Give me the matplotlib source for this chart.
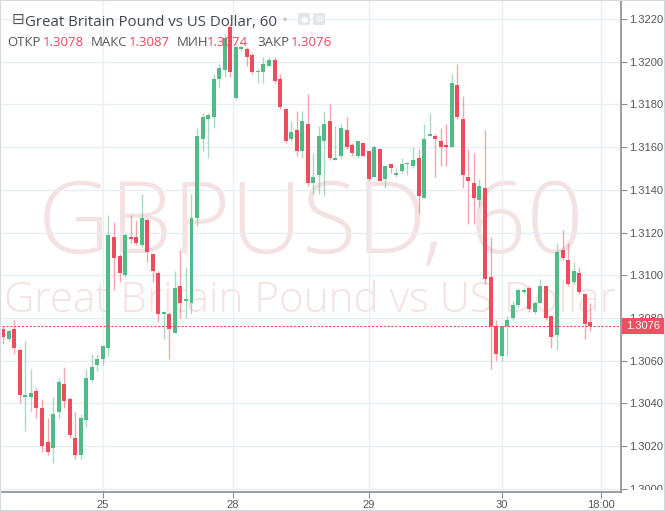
# GBPUSD hourly candles, TradingView style snapshot

import matplotlib
matplotlib.use('Agg')
import matplotlib.pyplot as plt
from matplotlib.patches import Rectangle, FancyBboxPatch
from matplotlib.transforms import Bbox

opens = [1.3075, 1.3070, 1.3075, 1.3065, 1.3043, 1.3043, 1.3046, 1.3038, 1.3022, 1.3019,
         1.3036, 1.3049, 1.3042, 1.3024, 1.3016, 1.3032, 1.3051, 1.3058, 1.3061, 1.3066,
         1.3118, 1.3109, 1.3100, 1.3118, 1.3118, 1.3114, 1.3126, 1.3110, 1.3101, 1.3082,
         1.3082, 1.3073, 1.3095, 1.3088, 1.3087, 1.3127, 1.3164, 1.3173, 1.3174, 1.3192,
         1.3196, 1.3216, 1.3183, 1.3206, 1.3206, 1.3203, 1.3195, 1.3195, 1.3198, 1.3201,
         1.3192, 1.3178, 1.3164, 1.3168, 1.3158, 1.3171, 1.3143, 1.3147, 1.3163, 1.3172,
         1.3154, 1.3156, 1.3168, 1.3161, 1.3156, 1.3162, 1.3158, 1.3146, 1.3159, 1.3145,
         1.3152, 1.3147, 1.3149, 1.3152, 1.3151, 1.3155, 1.3136, 1.3165, 1.3165, 1.3163,
         1.3161, 1.3160, 1.3189, 1.3173, 1.3146, 1.3143, 1.3135, 1.3141, 1.3099, 1.3076,
         1.3062, 1.3076, 1.3080, 1.3086, 1.3092, 1.3094, 1.3083, 1.3087, 1.3095, 1.3081,
         1.3072, 1.3112, 1.3107, 1.3097, 1.3101, 1.3091, 1.3078]
highs = [1.3076, 1.3075, 1.3079, 1.3066, 1.3069, 1.3056, 1.3047, 1.3042, 1.3033, 1.3043,
         1.3052, 1.3057, 1.3043, 1.3036, 1.3035, 1.3056, 1.3063, 1.3063, 1.3067, 1.3128,
         1.3125, 1.3110, 1.3120, 1.3128, 1.3126, 1.3138, 1.3127, 1.3110, 1.3102, 1.3083,
         1.3083, 1.3102, 1.3112, 1.3104, 1.3138, 1.3169, 1.3176, 1.3176, 1.3194, 1.3199,
         1.3213, 1.3218, 1.3208, 1.3208, 1.3207, 1.3204, 1.3197, 1.3202, 1.3202, 1.3202,
         1.3194, 1.3178, 1.3172, 1.3177, 1.3177, 1.3185, 1.3157, 1.3170, 1.3177, 1.3180,
         1.3170, 1.3171, 1.3174, 1.3162, 1.3163, 1.3162, 1.3158, 1.3161, 1.3159, 1.3151,
         1.3152, 1.3150, 1.3155, 1.3153, 1.3160, 1.3159, 1.3171, 1.3176, 1.3166, 1.3169,
         1.3171, 1.3194, 1.3199, 1.3184, 1.3159, 1.3157, 1.3145, 1.3168, 1.3118, 1.3079,
         1.3076, 1.3081, 1.3088, 1.3094, 1.3094, 1.3095, 1.3088, 1.3098, 1.3095, 1.3081,
         1.3115, 1.3121, 1.3115, 1.3106, 1.3104, 1.3091, 1.3087]
lows = [1.3068, 1.3069, 1.3063, 1.3040, 1.3027, 1.3036, 1.3033, 1.3017, 1.3016, 1.3012,
        1.3033, 1.3038, 1.3024, 1.3014, 1.3014, 1.3029, 1.3050, 1.3055, 1.3058, 1.3062,
        1.3093, 1.3097, 1.3099, 1.3115, 1.3114, 1.3113, 1.3106, 1.3097, 1.3078, 1.3070,
        1.3061, 1.3073, 1.3080, 1.3080, 1.3082, 1.3123, 1.3158, 1.3155, 1.3169, 1.3188,
        1.3193, 1.3193, 1.3182, 1.3205, 1.3198, 1.3194, 1.3190, 1.3190, 1.3198, 1.3190,
        1.3178, 1.3162, 1.3163, 1.3156, 1.3155, 1.3142, 1.3138, 1.3138, 1.3137, 1.3154,
        1.3154, 1.3155, 1.3159, 1.3156, 1.3155, 1.3156, 1.3144, 1.3146, 1.3144, 1.3141,
        1.3148, 1.3146, 1.3148, 1.3147, 1.3150, 1.3129, 1.3136, 1.3165, 1.3146, 1.3151,
        1.3151, 1.3160, 1.3173, 1.3141, 1.3124, 1.3124, 1.3132, 1.3096, 1.3056, 1.3060,
        1.3060, 1.3062, 1.3079, 1.3085, 1.3091, 1.3083, 1.3082, 1.3087, 1.3079, 1.3066,
        1.3065, 1.3107, 1.3095, 1.3096, 1.3091, 1.3070, 1.3074]
closes = [1.3071, 1.3074, 1.3066, 1.3044, 1.3044, 1.3045, 1.3038, 1.3020, 1.3017, 1.3035,
          1.3050, 1.3041, 1.3025, 1.3016, 1.3033, 1.3052, 1.3057, 1.3061, 1.3067, 1.3119,
          1.3108, 1.3101, 1.3119, 1.3117, 1.3115, 1.3127, 1.3111, 1.3102, 1.3082, 1.3083,
          1.3075, 1.3094, 1.3087, 1.3089, 1.3127, 1.3165, 1.3174, 1.3175, 1.3192, 1.3197,
          1.3211, 1.3195, 1.3207, 1.3207, 1.3202, 1.3195, 1.3195, 1.3199, 1.3201, 1.3191,
          1.3179, 1.3163, 1.3167, 1.3158, 1.3172, 1.3143, 1.3146, 1.3165, 1.3171, 1.3155,
          1.3155, 1.3169, 1.3160, 1.3157, 1.3163, 1.3156, 1.3145, 1.3160, 1.3144, 1.3151,
          1.3150, 1.3148, 1.3152, 1.3152, 1.3154, 1.3137, 1.3164, 1.3166, 1.3164, 1.3160,
          1.3160, 1.3190, 1.3174, 1.3147, 1.3144, 1.3136, 1.3142, 1.3098, 1.3076, 1.3063,
          1.3076, 1.3079, 1.3086, 1.3093, 1.3093, 1.3084, 1.3087, 1.3095, 1.3080, 1.3071,
          1.3111, 1.3108, 1.3096, 1.3102, 1.3092, 1.3077, 1.3076]

day_ticks = [18, 41.5, 66, 90, 108]
day_labels = ['25', '28', '29', '30', '18:00']
price_ticks = [1.3000, 1.3020, 1.3040, 1.3060, 1.3080, 1.3100,
               1.3120, 1.3140, 1.3160, 1.3180, 1.3200, 1.3220]
last_price = 1.3076

title = 'Great Britain Pound vs US Dollar, 60'
symbol = 'GBPUSD, 60'
ohlc_names = ['ОТКР', 'МАКС', 'МИН', 'ЗАКР']
ohlc_values = ['1.3078', '1.3087', '1.3074', '1.3076']

UP = '#53b987'
DOWN = '#eb4d5c'
W, H = 665, 511

fig = plt.figure(figsize=(W / 100, H / 100), dpi=100)
ax = fig.add_axes([2 / W, 19 / H, 619 / W, 491 / H])
ax.set_facecolor('none')
ax.set_axisbelow(True)

x = list(range(len(opens)))
colors = [UP if c >= o else DOWN for o, c in zip(opens, closes)]
bottoms = [min(o, c) for o, c in zip(opens, closes)]
heights = [max(abs(c - o), 0.00005) for o, c in zip(opens, closes)]

ax.vlines(x, lows, highs, colors=colors, linewidth=1, alpha=0.5, zorder=2)
ax.bar(x, heights, bottom=bottoms, width=0.72, color=colors, linewidth=0, zorder=3)

ax.axhline(last_price, color=DOWN, linestyle=(0, (2, 1.5)), linewidth=0.8, zorder=4)

ax.set_xlim(-0.22, 111.56)
ax.set_ylim(1.29985, 1.32284)

ax.yaxis.tick_right()
ax.set_yticks(price_ticks)
ax.set_yticklabels(['%.4f' % p for p in price_ticks])
ax.set_xticks(day_ticks)
ax.set_xticklabels(day_labels)
ax.tick_params(axis='both', colors='#8e8e8e', labelcolor='#555555',
               labelsize=8, length=4, width=0.8, pad=2)
# the lowest price label is cut by the time scale, as on the screen
clip = Bbox([[600, 21], [W, H]])
for lab in ax.get_xticklabels() + ax.get_yticklabels():
    lab.set_fontfamily('Liberation Sans')
for lab in ax.get_yticklabels():
    lab.set_clip_on(True)
    lab.set_clip_box(clip)

ax.grid(True, color='#e8eef2', linewidth=1)
for side in ['top', 'left']:
    ax.spines[side].set_visible(False)
for side in ['right', 'bottom']:
    ax.spines[side].set_color('#8e8e8e')
    ax.spines[side].set_linewidth(1.2)

renderer = fig.canvas.get_renderer()


def fit_width(t, target_px):
    w = t.get_window_extent(renderer).width
    t.set_fontsize(t.get_fontsize() * target_px / w)


def fy(py):
    return 1 - py / H


# watermark
wm1 = ax.text(38 / W, fy(253), symbol, transform=fig.transFigure, fontsize=60,
              family='Open Sans', weight='light', color='#f4e1e2', va='baseline',
              ha='left', zorder=0.2)
fit_width(wm1, 545)
wm2 = ax.text(4 / W, fy(312), 'Great Britain Pound vs US Dollar', transform=fig.transFigure,
              fontsize=30, family='Open Sans', weight='light', color='#f4e1e2',
              va='baseline', ha='left', zorder=0.2)
fit_width(wm2, 613)

# price tag on the right axis
fig.patches.append(Rectangle((622 / W, fy(334)), 43 / W, 16 / H, transform=fig.transFigure,
                             facecolor='#ee4f61', edgecolor='none', zorder=5))
fig.text(626 / W, fy(326), '%.4f' % last_price, color='white', fontsize=8,
         family='Liberation Sans', va='center', ha='left', zorder=6)

# header
fig.text(12 / W, fy(19), '⊟', fontsize=11, color='#555555', family='DejaVu Sans',
         va='center', ha='left', zorder=6)
ht = fig.text(25 / W, fy(26), title, fontsize=11, color='#434651', family='Open Sans',
              va='baseline', ha='left', zorder=6)
fit_width(ht, 252)
fig.text(283 / W, fy(19), '▾', fontsize=6, color='#c0c0c0', family='DejaVu Sans',
         va='center', ha='left', zorder=6)
for left, glyph in [(298, '●'), (313, '⚙')]:
    fig.patches.append(FancyBboxPatch((left / W, fy(25)), 12 / W, 12 / H,
                                      boxstyle='round,pad=0,rounding_size=0.003',
                                      transform=fig.transFigure, facecolor='#e3e5ea',
                                      edgecolor='none', zorder=5))
    fig.text((left + 6) / W, fy(19), glyph, fontsize=6, color='white', family='DejaVu Sans',
             va='center', ha='center', zorder=6)

name_x = [7, 91, 177, 257]
value_x = [43, 129, 207, 291]
for nx, vx, name, val in zip(name_x, value_x, ohlc_names, ohlc_values):
    fig.text(nx / W, fy(45.5), name, fontsize=9.5, color='#555555', family='Open Sans',
             va='baseline', ha='left', zorder=6)
    fig.text(vx / W, fy(45.5), val, fontsize=9.5, color='#e5485b', family='Open Sans',
             va='baseline', ha='left', zorder=6)

# outer frame
fig.patches.append(Rectangle((0, 0), 1, 1, transform=fig.transFigure, fill=False,
                             edgecolor='#d5d9de', linewidth=1.5, zorder=10))

fig.savefig('out.png', dpi=100)
